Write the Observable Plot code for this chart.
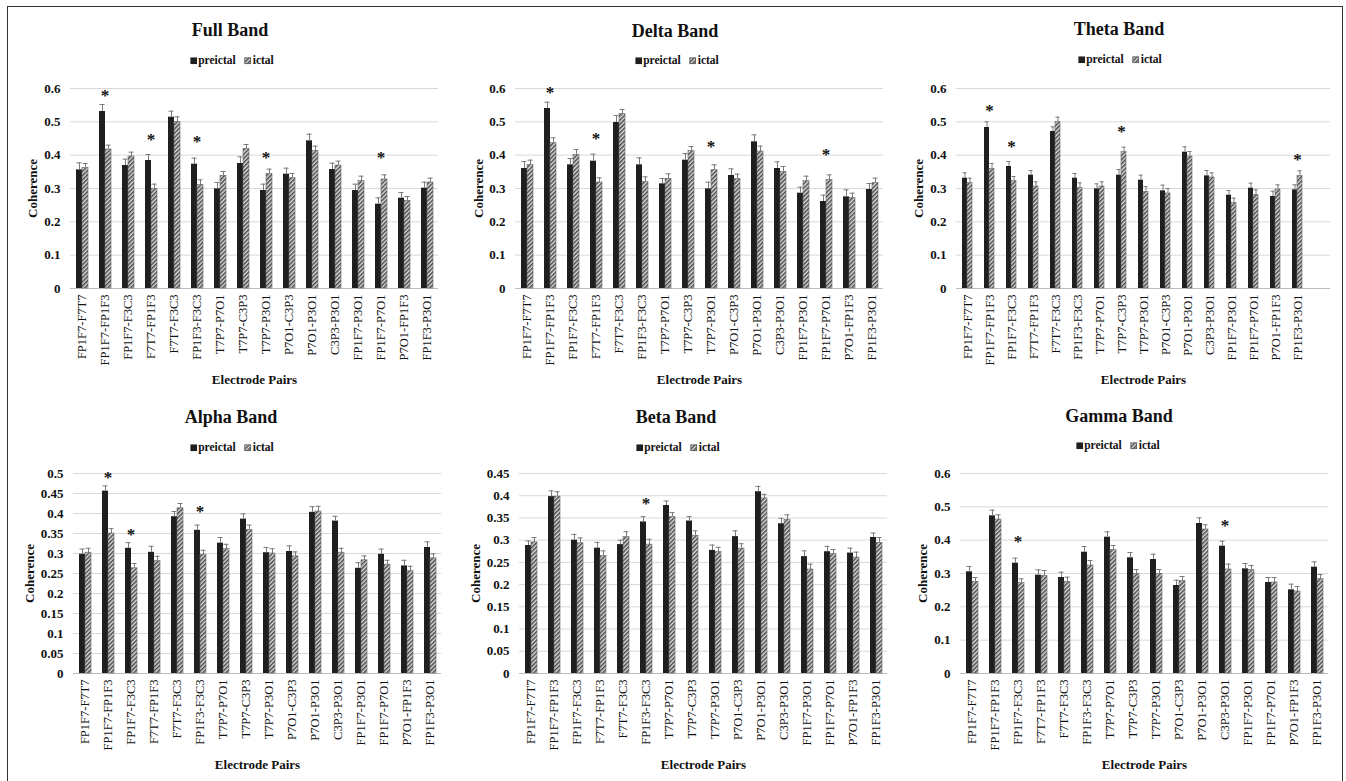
<!DOCTYPE html>
<html><head><meta charset="utf-8">
<script src="https://cdn.jsdelivr.net/npm/d3@7"></script>
<script src="https://cdn.jsdelivr.net/npm/@observablehq/plot@0.6"></script>
<style>
body{margin:0;background:#fff;font-family:"Liberation Serif",serif;color:#111;}
#fig{position:relative;width:1346px;height:781px;overflow:hidden;background:#fff;}
#fig svg, #fig svg text{font-family:"Liberation Serif",serif;}
.frame{position:absolute;left:7px;top:6px;width:1336px;height:800px;border:1.5px solid #333;box-sizing:border-box;}
.title{position:absolute;transform:translate(-50%,-50%);font-weight:bold;font-size:18px;white-space:nowrap;line-height:1;}
.legend{position:absolute;transform:translate(-50%,-50%);font-weight:bold;font-size:11.5px;white-space:nowrap;display:flex;align-items:center;line-height:1;}
.legend svg{margin-right:1px;}
.plot{position:absolute;}
</style></head>
<body>
<svg width="0" height="0" style="position:absolute"><defs>
<pattern id="hatch" width="3" height="3" patternUnits="userSpaceOnUse" patternTransform="rotate(45)">
<rect width="3" height="3" fill="#e0e0e0"/><line x1="0.8" y1="0" x2="0.8" y2="3" stroke="#454545" stroke-width="1.5"/>
</pattern></defs></svg>
<div id="fig"><div class="frame"></div></div>
<script>
const pairs = ["FP1F7-F7T7","FP1F7-FP1F3","FP1F7-F3C3","F7T7-FP1F3","F7T7-F3C3","FP1F3-F3C3","T7P7-P7O1","T7P7-C3P3","T7P7-P3O1","P7O1-C3P3","P7O1-P3O1","C3P3-P3O1","FP1F7-P3O1","FP1F7-P7O1","P7O1-FP1F3","FP1F3-P3O1"];
const seriesNames = ["preictal","ictal"];
const ticks06 = [0,0.1,0.2,0.3,0.4,0.5,0.6];
const ticks05 = [0,0.05,0.1,0.15,0.2,0.25,0.3,0.35,0.4,0.45,0.5];
const ticks045 = [0,0.05,0.1,0.15,0.2,0.25,0.3,0.35,0.4,0.45];

// Full band
const fullPre    = [0.356,0.531,0.369,0.384,0.514,0.373,0.299,0.375,0.294,0.343,0.443,0.357,0.294,0.253,0.271,0.301];
const fullPreErr = [0.021,0.021,0.019,0.018,0.018,0.018,0.019,0.020,0.019,0.018,0.020,0.019,0.019,0.019,0.017,0.018];
const fullIct    = [0.362,0.417,0.396,0.299,0.500,0.311,0.338,0.419,0.343,0.331,0.413,0.369,0.322,0.327,0.263,0.318];
const fullIctErr = [0.013,0.013,0.013,0.014,0.015,0.015,0.013,0.013,0.015,0.014,0.014,0.013,0.015,0.014,0.013,0.013];
const fullStarIdx = [1,3,5,8,13];
const fullStarY   = [0.592,0.459,0.454,0.404,0.404];

// Delta band
const deltaPre    = [0.360,0.540,0.371,0.382,0.498,0.371,0.314,0.385,0.299,0.339,0.440,0.360,0.286,0.261,0.275,0.297];
const deltaPreErr = [0.021,0.019,0.019,0.021,0.021,0.021,0.016,0.020,0.020,0.020,0.021,0.020,0.018,0.019,0.021,0.018];
const deltaIct    = [0.371,0.436,0.401,0.318,0.524,0.319,0.329,0.412,0.355,0.328,0.411,0.350,0.322,0.325,0.272,0.316];
const deltaIctErr = [0.014,0.016,0.016,0.014,0.013,0.016,0.015,0.014,0.016,0.015,0.016,0.016,0.015,0.016,0.014,0.015];
const deltaStarIdx = [1,3,8,13];
const deltaStarY   = [0.600,0.462,0.438,0.414];

// Theta band
const thetaPre    = [0.331,0.483,0.366,0.340,0.471,0.331,0.299,0.340,0.325,0.293,0.409,0.338,0.280,0.301,0.276,0.296];
const thetaPreErr = [0.016,0.017,0.015,0.014,0.014,0.014,0.015,0.017,0.015,0.017,0.016,0.016,0.014,0.015,0.016,0.015];
const thetaIct    = [0.316,0.359,0.322,0.306,0.499,0.301,0.306,0.409,0.290,0.285,0.396,0.333,0.256,0.281,0.297,0.337];
const thetaIctErr = [0.015,0.016,0.014,0.014,0.015,0.016,0.014,0.015,0.016,0.015,0.015,0.014,0.015,0.015,0.014,0.016];
const thetaStarIdx = [1,2,7,15];
const thetaStarY   = [0.545,0.437,0.483,0.399];

// Alpha band
const alphaPre    = [0.298,0.456,0.313,0.303,0.392,0.358,0.326,0.386,0.302,0.305,0.403,0.381,0.263,0.298,0.269,0.315];
const alphaPreErr = [0.013,0.013,0.014,0.015,0.013,0.013,0.014,0.013,0.013,0.014,0.014,0.012,0.014,0.013,0.014,0.014];
const alphaIct    = [0.302,0.350,0.263,0.281,0.413,0.297,0.311,0.359,0.300,0.293,0.405,0.302,0.283,0.272,0.256,0.288];
const alphaIctErr = [0.011,0.012,0.012,0.012,0.012,0.011,0.012,0.012,0.012,0.011,0.013,0.011,0.011,0.011,0.012,0.011];
const alphaStarIdx = [1,2,5];
const alphaStarY   = [0.500,0.357,0.415];

// Beta band
const betaPre    = [0.288,0.398,0.300,0.282,0.290,0.341,0.378,0.343,0.277,0.308,0.409,0.337,0.263,0.274,0.271,0.306];
const betaPreErr = [0.010,0.013,0.013,0.013,0.010,0.012,0.010,0.010,0.012,0.013,0.012,0.012,0.013,0.012,0.011,0.010];
const betaIct    = [0.295,0.398,0.293,0.264,0.307,0.290,0.352,0.310,0.273,0.281,0.394,0.346,0.234,0.269,0.261,0.294];
const betaIctErr = [0.011,0.011,0.012,0.012,0.012,0.012,0.010,0.011,0.011,0.011,0.009,0.011,0.012,0.010,0.012,0.012];
const betaStarIdx = [5];
const betaStarY   = [0.391];

// Gamma band
const gammaPre    = [0.305,0.473,0.331,0.295,0.288,0.364,0.409,0.347,0.342,0.264,0.450,0.382,0.314,0.273,0.251,0.319];
const gammaPreErr = [0.016,0.017,0.015,0.016,0.016,0.017,0.016,0.016,0.016,0.016,0.017,0.015,0.016,0.015,0.017,0.016];
const gammaIct    = [0.275,0.462,0.271,0.293,0.275,0.324,0.370,0.299,0.299,0.277,0.432,0.312,0.310,0.273,0.246,0.283];
const gammaIctErr = [0.013,0.014,0.013,0.016,0.014,0.015,0.014,0.013,0.013,0.014,0.014,0.016,0.014,0.015,0.015,0.014];
const gammaStarIdx = [2,11];
const gammaStarY   = [0.408,0.456];

const panels = [
  {title:"Full Band",  pre:fullPre,  preErr:fullPreErr,  ict:fullIct,  ictErr:fullIctErr,  starIdx:fullStarIdx,  starY:fullStarY,  ticks:ticks06,
   left:0,   top:78,  width:448, tx:230,  ty:30,  lx:232,  ly:61,  yLab:43},
  {title:"Delta Band", pre:deltaPre, preErr:deltaPreErr, ict:deltaIct, ictErr:deltaIctErr, starIdx:deltaStarIdx, starY:deltaStarY, ticks:ticks06,
   left:445, top:78,  width:447, tx:675,  ty:31,  lx:677,  ly:61,  yLab:42},
  {title:"Theta Band", pre:thetaPre, preErr:thetaPreErr, ict:thetaIct, ictErr:thetaIctErr, starIdx:thetaStarIdx, starY:thetaStarY, ticks:ticks06,
   left:890, top:78,  width:445, tx:1119, ty:29,  lx:1120, ly:60,  yLab:43, extraSlot:true},
  {title:"Alpha Band", pre:alphaPre, preErr:alphaPreErr, ict:alphaIct, ictErr:alphaIctErr, starIdx:alphaStarIdx, starY:alphaStarY, ticks:ticks05,
   left:7,   top:463, width:440, tx:231,  ty:417, lx:232,  ly:448, yLab:49},
  {title:"Beta Band",  pre:betaPre,  preErr:betaPreErr,  ict:betaIct,  ictErr:betaIctErr,  starIdx:betaStarIdx,  starY:betaStarY,  ticks:ticks045,
   left:453, top:463, width:439, tx:676,  ty:417, lx:678,  ly:448, yLab:49},
  {title:"Gamma Band", pre:gammaPre, preErr:gammaPreErr, ict:gammaIct, ictErr:gammaIctErr, starIdx:gammaStarIdx, starY:gammaStarY, ticks:ticks06,
   left:890, top:463, width:448, tx:1119, ty:416, lx:1118, ly:446, yLab:43}
];

const fig = document.getElementById("fig");
const FONT = "'Liberation Serif', serif";
const PRE_FILL = "#1f1f1f";
const GRID = "#d9d9d9";
const ERR = "#7a7a7a";

for (const cfg of panels) {
  const rows = [];
  pairs.forEach((p, i) => {
    rows.push({pair: p, series: seriesNames[0], v: cfg.pre[i], e: cfg.preErr[i]});
    rows.push({pair: p, series: seriesNames[1], v: cfg.ict[i], e: cfg.ictErr[i]});
  });
  const slots = cfg.extraSlot ? [...pairs, " "] : pairs;
  const gridRows = slots.flatMap(p => cfg.ticks.map(t => ({pair: p, t})));
  const stars = cfg.starIdx.map((k, j) => ({pair: pairs[k], y: cfg.starY[j]}));
  const ymax = cfg.ticks[cfg.ticks.length - 1];

  const chart = Plot.plot({
    width: cfg.width, height: 312,
    marginTop: 10, marginBottom: 102, marginLeft: 65, marginRight: 5,
    style: {fontFamily: FONT, background: "transparent", color: "#111", overflow: "visible"},
    fx: {domain: slots, padding: 0, label: null, axis: null},
    x: {domain: seriesNames, paddingInner: 0, paddingOuter: 0.85, axis: null},
    y: {domain: [0, ymax], axis: null},
    marks: [
      Plot.ruleY(gridRows, {fx: "pair", y: "t", stroke: d => d.t === 0 ? "#bcbcbc" : GRID, strokeWidth: 1}),
      Plot.barY(rows.filter(d => d.series === "preictal"), {fx: "pair", x: "series", y: "v", fill: PRE_FILL}),
      Plot.barY(rows.filter(d => d.series === "ictal"), {fx: "pair", x: "series", y: "v", fill: "url(#hatch)", stroke: "#666", strokeWidth: 0.6}),
      Plot.ruleX(rows, {fx: "pair", x: "series", y1: "v", y2: d => d.v + d.e, stroke: ERR, strokeWidth: 1}),
      Plot.tickY(rows, {fx: "pair", x: "series", y: d => d.v + d.e, stroke: ERR, strokeWidth: 1, insetLeft: 0.5, insetRight: 0.5}),
      Plot.text(stars, {fx: "pair", y: "y", text: () => "*", fontSize: 17, fontWeight: "bold", fontFamily: FONT, fill: "#111", dy: 4}),
      Plot.axisY({ticks: cfg.ticks, tickFormat: d => String(d), tickSize: 0, tickPadding: 10, fontFamily: FONT,
        fontSize: 13, fontWeight: "bold", label: "Coherence", labelAnchor: "center", labelOffset: cfg.yLab, labelArrow: "none"}),
      Plot.axisFx({anchor: "bottom", tickRotate: -90, tickSize: 0, tickPadding: 6, fontSize: 12.5, fontFamily: FONT,
        label: null}),
      Plot.axisFx({anchor: "bottom", ticks: [], tickSize: 0, fontSize: 13, fontWeight: "bold", fontFamily: FONT,
        label: "Electrode Pairs", labelAnchor: "center", labelOffset: 95})
    ]
  });
  chart.classList.add("plot");
  chart.style.left = cfg.left + "px";
  chart.style.top = cfg.top + "px";
  fig.appendChild(chart);

  const t = document.createElement("div");
  t.className = "title";
  t.textContent = cfg.title;
  t.style.left = cfg.tx + "px";
  t.style.top = cfg.ty + "px";
  fig.appendChild(t);

  const lg = document.createElement("div");
  lg.className = "legend";
  lg.style.left = cfg.lx + "px";
  lg.style.top = cfg.ly + "px";
  lg.innerHTML = `<svg width="7" height="7"><rect width="7" height="7" fill="${PRE_FILL}"/></svg>preictal<span style="display:inline-block;width:9px"></span>` +
    `<svg width="7" height="7"><rect x="0.5" y="0.5" width="6" height="6" fill="url(#hatch)" stroke="#555" stroke-width="1"/></svg>ictal`;
  fig.appendChild(lg);
}
</script>
</body></html>
